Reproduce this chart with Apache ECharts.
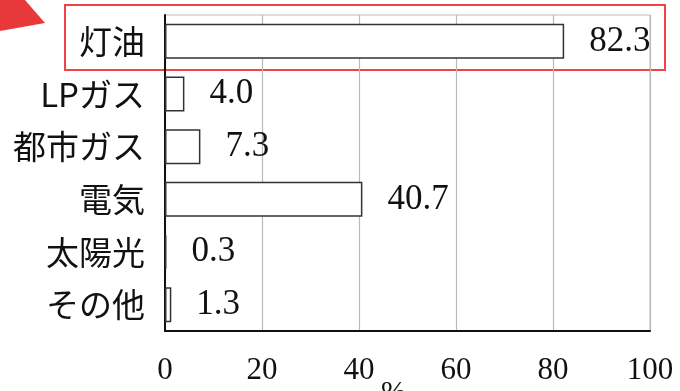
<!DOCTYPE html>
<html>
<head>
<meta charset="utf-8">
<script src="https://cdn.jsdelivr.net/npm/echarts@6/dist/echarts.min.js"></script>
<style>html,body{margin:0;padding:0;background:#fff}#c{width:680px;height:391px}</style>
</head>
<body>
<div id="c"></div>
<script>
const categories = ['灯油', 'LPガス', '都市ガス', '電気', '太陽光', 'その他'];
const values = [82.3, 4.0, 7.3, 40.7, 0.3, 1.3];
const xTicks = [0, 20, 40, 60, 80, 100];
const axisName = '%';

const chart = echarts.init(document.getElementById('c'));
chart.setOption({
  animation: false,
  backgroundColor: '#fff',
  grid: { left: 165, right: 30, top: 15, bottom: 60, show: true, borderColor: '#bbb', borderWidth: 1,
    containLabel: false, outerBoundsMode: 'none' },
  xAxis: {
    type: 'value', min: xTicks[0], max: xTicks[xTicks.length - 1], interval: 20,
    axisLine: { show: true, lineStyle: { color: '#111', width: 2 } },
    axisTick: { show: false },
    splitLine: { show: true, lineStyle: { color: '#bbb', width: 1.2 } },
    axisLabel: { color: '#111', fontFamily: 'Liberation Serif', fontSize: 31, margin: 24 },
    name: axisName, nameLocation: 'middle', nameGap: 47, nameMoveOverlap: false,
    nameTextStyle: { color: '#111', fontFamily: 'Liberation Serif', fontSize: 30, padding: [0, 28, 0, 0] }
  },
  yAxis: {
    type: 'category', data: categories, inverse: true,
    axisLine: { show: true, lineStyle: { color: '#111', width: 2 } },
    axisTick: { show: false },
    splitLine: { show: false },
    axisLabel: { color: '#111', fontFamily: 'Noto Sans CJK JP', fontSize: 33, margin: 20 }
  },
  series: [{
    type: 'bar', data: values, barWidth: 35,
    itemStyle: { color: '#fff', borderColor: '#333', borderWidth: 1.5 },
    label: { show: true, position: 'right', distance: 25, color: '#111', fontFamily: 'Liberation Serif', fontSize: 35,
      formatter: p => p.value.toFixed(1) }
  }],
  graphic: [
    { type: 'polygon', shape: { points: [[0, 0], [25, 0], [45, 23], [0, 31]] }, style: { fill: '#e8393a' } },
    { type: 'rect', shape: { x: 65, y: 5, width: 600, height: 65 }, style: { fill: 'none', stroke: '#ee4444', lineWidth: 2 } }
  ]
});
</script>
</body>
</html>
